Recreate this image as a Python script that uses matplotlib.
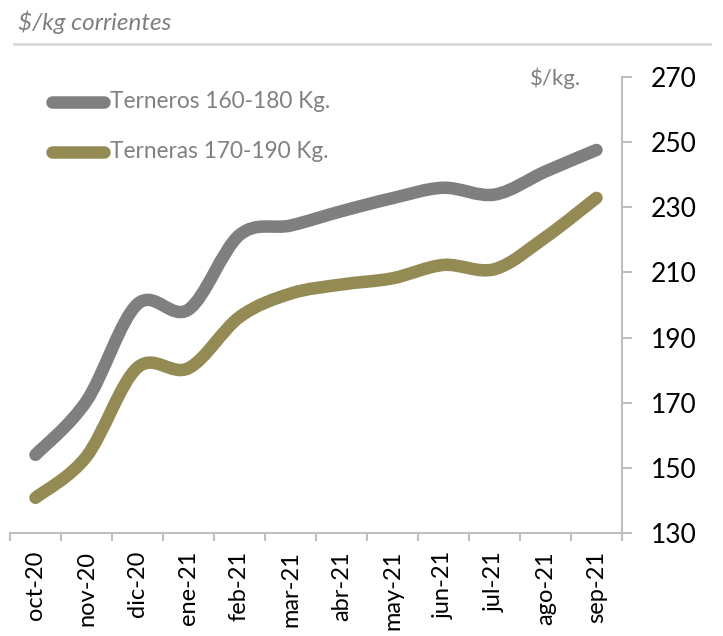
import matplotlib
matplotlib.use('Agg')
import matplotlib.pyplot as plt
from matplotlib.path import Path
from matplotlib.patches import PathPatch
import numpy as np

# data
months = ['oct-20', 'nov-20', 'dic-20', 'ene-21', 'feb-21', 'mar-21',
          'abr-21', 'may-21', 'jun-21', 'jul-21', 'ago-21', 'sep-21']
terneros = [154.0, 170.5, 200.3, 198.6, 221.5, 224.4, 228.8, 232.8, 236.0, 233.9, 241.0, 247.6]
terneras = [140.8, 153.5, 180.8, 180.6, 196.3, 203.5, 206.3, 208.2, 212.3, 211.0, 220.8, 232.9]
yticks = [130, 150, 170, 190, 210, 230, 250, 270]

c_gray = '#7f7f7f'
c_olive = '#948a54'
c_axis = '#bfbfbf'
plt.rcParams['font.family'] = ['Lato', 'DejaVu Sans']


def smooth_path(x, y):
    # excel style smoothed line: cubic bezier with catmull-rom control points
    pts = np.column_stack([x, y])
    n = len(pts)
    verts = [pts[0]]
    codes = [Path.MOVETO]
    for i in range(n - 1):
        p0 = pts[max(i - 1, 0)]
        p1 = pts[i]
        p2 = pts[i + 1]
        p3 = pts[min(i + 2, n - 1)]
        c1 = p1 + (p2 - p0) / 6
        c2 = p2 - (p3 - p1) / 6
        verts += [c1, c2, p2]
        codes += [Path.CURVE4] * 3
    return Path(verts, codes)


fig = plt.figure(figsize=(7.23, 6.36), dpi=100)
ax = fig.add_axes([10 / 723, 1 - 533 / 636, 612 / 723, 456 / 636])

x = np.arange(len(months)) + 0.5
for vals, col in [(terneros, c_gray), (terneras, c_olive)]:
    patch = PathPatch(smooth_path(x, vals), facecolor='none', edgecolor=col,
                      lw=9, capstyle='round', joinstyle='round')
    ax.add_patch(patch)

ax.set_xlim(0, len(months))
ax.set_ylim(130, 270)

for s in ['top', 'left']:
    ax.spines[s].set_visible(False)
for s in ['bottom', 'right']:
    ax.spines[s].set_color(c_axis)
    ax.spines[s].set_linewidth(1.5)

ax.yaxis.tick_right()
ax.set_yticks(yticks)
ax.set_yticklabels([str(v) for v in yticks], fontsize=19, color='black')
ax.tick_params(axis='y', which='major', length=7, width=1.5, color=c_axis,
               direction='out', pad=14)

ax.set_xticks(np.arange(len(months) + 1))
ax.set_xticklabels([])
ax.tick_params(axis='x', which='major', length=6, width=1.5, color=c_axis, direction='out')
ax.set_xticks(x, minor=True)
ax.set_xticklabels(months, minor=True, rotation=90, fontsize=17, va='top', ha='center')
ax.tick_params(axis='x', which='minor', length=0, pad=13)

# legend drawn by hand to mimic the excel layout
for yy, col, lab in [(102, c_gray, 'Terneros 160-180 Kg.'),
                     (152, c_olive, 'Terneras 170-190 Kg.')]:
    fig.add_artist(plt.Line2D([52 / 723, 104 / 723], [1 - yy / 636, 1 - yy / 636],
                              color=col, lw=9, solid_capstyle='round'))
    fig.text(110 / 723, 1 - yy / 636, lab, fontsize=16.3, color='#808080', va='center', ha='left')

fig.text(530 / 723, 1 - 78 / 636, '$/kg.', fontsize=16, color='#808080', va='center', ha='left')
fig.text(18 / 723, 1 - 22 / 636, '$/kg corrientes', fontsize=17.5, style='italic',
         color='#7f7f7f', va='center', ha='left')
fig.add_artist(plt.Line2D([14 / 723, 710 / 723], [1 - 44 / 636, 1 - 44 / 636],
                          color='#d9d9d9', lw=2))

fig.savefig('out.png', dpi=100)
